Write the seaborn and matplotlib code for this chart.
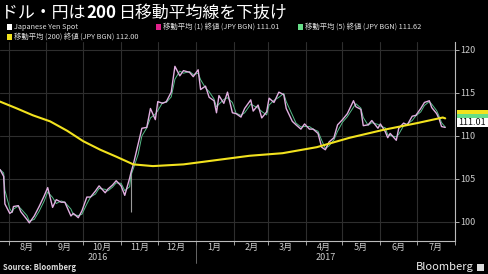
import matplotlib
matplotlib.use('Agg')
import matplotlib.pyplot as plt
import matplotlib.dates as mdates
import matplotlib.transforms as mtrans
from matplotlib.patches import Rectangle
import seaborn as sns
import pandas as pd

# ---------------- data ----------------
spot_dates = [
    '2016-07-25', '2016-07-28', '2016-07-29', '2016-08-02', '2016-08-04', '2016-08-05',
    '2016-08-09', '2016-08-11', '2016-08-16', '2016-08-18', '2016-08-22', '2016-08-26',
    '2016-08-30', '2016-09-02', '2016-09-06', '2016-09-09', '2016-09-13', '2016-09-16',
    '2016-09-21', '2016-09-23', '2016-09-27', '2016-09-30', '2016-10-04', '2016-10-07',
    '2016-10-11', '2016-10-14', '2016-10-19', '2016-10-21', '2016-10-25', '2016-10-28',
    '2016-11-01', '2016-11-04', '2016-11-08', '2016-11-09', '2016-11-11', '2016-11-15',
    '2016-11-18', '2016-11-22', '2016-11-25', '2016-11-29', '2016-12-01', '2016-12-05',
    '2016-12-08', '2016-12-12', '2016-12-15', '2016-12-19', '2016-12-22', '2016-12-27',
    '2016-12-30', '2017-01-03', '2017-01-05', '2017-01-09', '2017-01-12', '2017-01-16',
    '2017-01-18', '2017-01-20', '2017-01-24', '2017-01-27', '2017-01-31', '2017-02-03',
    '2017-02-07', '2017-02-10', '2017-02-15', '2017-02-17', '2017-02-21', '2017-02-24',
    '2017-02-28', '2017-03-02', '2017-03-06', '2017-03-10', '2017-03-14', '2017-03-16',
    '2017-03-21', '2017-03-24', '2017-03-28', '2017-03-31', '2017-04-04', '2017-04-07',
    '2017-04-11', '2017-04-14', '2017-04-17', '2017-04-20', '2017-04-24', '2017-04-27',
    '2017-05-01', '2017-05-05', '2017-05-10', '2017-05-12', '2017-05-16', '2017-05-18',
    '2017-05-22', '2017-05-25', '2017-05-30', '2017-06-01', '2017-06-05', '2017-06-07',
    '2017-06-09', '2017-06-14', '2017-06-16', '2017-06-20', '2017-06-23', '2017-06-27',
    '2017-06-30', '2017-07-04', '2017-07-07', '2017-07-11', '2017-07-13', '2017-07-17',
    '2017-07-19', '2017-07-21', '2017-07-24',
]
spot_values = [
    106.1, 105.3, 102.1, 101.0, 101.2, 101.8,
    101.9, 101.2, 100.3, 99.9, 100.7, 101.8,
    103.0, 104.0, 101.7, 102.6, 102.3, 102.3,
    100.7, 101.0, 100.5, 101.3, 102.9, 102.9,
    103.6, 104.2, 103.4, 103.8, 104.3, 104.8,
    104.2, 103.1, 105.1, 105.7, 106.7, 109.1,
    110.9, 111.0, 113.2, 111.9, 114.0, 113.8,
    114.0, 115.1, 118.1, 117.0, 117.6, 117.4,
    116.9, 117.7, 115.4, 115.8, 114.5, 114.1,
    112.7, 114.7, 113.8, 115.1, 112.7, 112.6,
    112.2, 113.2, 114.2, 112.9, 113.6, 112.1,
    112.8, 114.4, 113.9, 115.1, 114.8, 113.2,
    111.7, 111.3, 110.8, 111.4, 110.8, 110.8,
    110.3, 108.7, 108.4, 109.3, 109.8, 111.3,
    111.9, 112.6, 114.1, 113.4, 113.1, 111.2,
    111.3, 111.8, 110.9, 111.4, 110.5, 109.8,
    110.3, 109.5, 110.9, 111.5, 111.3, 112.3,
    112.4, 113.2, 113.9, 114.1, 113.3, 112.6,
    112.0, 111.1, 111.0,
]
election_date = '2016-11-09'
election_low = 101.2

ma200_dates = [
    '2016-07-25', '2016-08-07', '2016-08-21', '2016-09-04', '2016-09-18', '2016-10-01',
    '2016-10-15', '2016-10-28', '2016-11-11', '2016-11-27', '2016-12-22', '2017-01-18',
    '2017-02-14', '2017-03-13', '2017-04-10', '2017-05-07', '2017-06-03', '2017-07-01',
    '2017-07-22', '2017-07-24',
]
ma200_values = [
    114.0, 113.25, 112.4, 111.7, 110.6, 109.4,
    108.4, 107.6, 106.7, 106.5, 106.7, 107.2,
    107.7, 108.0, 108.7, 109.8, 110.7, 111.5,
    112.15, 112.05,
]

month_starts = pd.date_range('2016-08-01', '2017-08-01', freq='MS')
month_labels = ['8月', '9月', '10月', '11月', '12月', '1月', '2月', '3月',
                '4月', '5月', '6月', '7月']
year_labels = ['2016', '2017']
year_label_dates = ['2016-10-13', '2017-04-17']

title_parts = ['ドル・円は', '200', '日移動平均線を下抜け']

legend_items = [
    ('Japanese Yen Spot', '#ffffff'),
    ('移動平均 (1) 終値 (JPY BGN) 111.01', '#e0208a'),
    ('移動平均 (5) 終値 (JPY BGN) 111.62', '#66dd88'),
    ('移動平均 (200) 終値 (JPY BGN) 112.00', '#f2e21e'),
]
last_value_label = '111.01'

# ---------------- style ----------------
sns.set_theme(style='dark')
plt.rcParams['font.family'] = ['Noto Sans CJK JP', 'DejaVu Sans']
plt.rcParams['axes.unicode_minus'] = False

spot = pd.DataFrame({'date': pd.to_datetime(spot_dates), 'value': spot_values})
spot['ma5'] = spot['value'].rolling(2, min_periods=1).mean()
ma200 = pd.DataFrame({'date': pd.to_datetime(ma200_dates), 'value': ma200_values})

W, H = 488, 274
fig = plt.figure(figsize=(W / 100, H / 100), dpi=100, facecolor='black')
ax_left, ax_right, ax_top, ax_bot = 0, 455, 42, 241
ax = fig.add_axes([ax_left / W, 1 - ax_bot / H, (ax_right - ax_left) / W,
                   (ax_bot - ax_top) / H])
ax.set_facecolor('black')

# grid
for yv in [100, 105, 110, 115, 120]:
    ax.axhline(yv, color='#2e2e2e', lw=0.8, zorder=0)
for d in month_starts:
    ax.axvline(d, color='#2e2e2e', lw=0.8, zorder=0)

# election-night wick
ax.vlines(pd.to_datetime(election_date), election_low, 106.0, color='#999999', lw=0.8, zorder=2)

sns.lineplot(data=spot, x='date', y='ma5', ax=ax, color='#55bb88', lw=0.7, zorder=2)
sns.lineplot(data=spot, x='date', y='value', ax=ax, color='#e2b0e2', lw=1.0, zorder=3)
sns.lineplot(data=ma200, x='date', y='value', ax=ax, color='#f2e21e', lw=1.5, zorder=4)

ax.set_xlim(pd.Timestamp('2016-07-25'), pd.Timestamp('2017-08-01'))
ax.set_ylim(120 - (ax_bot - 50) / 8.6, 120 + (50 - ax_top) / 8.6)
ax.set_xlabel('')
ax.set_ylabel('')

for s in ['top', 'left']:
    ax.spines[s].set_visible(False)
for s in ['right', 'bottom']:
    ax.spines[s].set_visible(True)
    ax.spines[s].set_color('#bbbbbb')
    ax.spines[s].set_linewidth(0.8)

ax.yaxis.tick_right()
ax.set_yticks([100, 105, 110, 115, 120])
ax.tick_params(axis='y', colors='#cccccc', labelsize=6.5, length=3, width=0.6, pad=1,
               direction='out', right=True, left=False)

mids = [ms + pd.Timedelta(days=15) for ms in month_starts[:-1]]
ax.set_xticks(mids)
ax.set_xticklabels(month_labels)
ax.set_xticks(list(month_starts), minor=True)
ax.tick_params(axis='x', which='major', length=0, colors='#cccccc', labelsize=6.5, pad=1.5,
               bottom=True)
ax.tick_params(axis='x', which='minor', length=3, width=0.6, color='#bbbbbb', bottom=True)

bt = mtrans.blended_transform_factory(ax.transData, fig.transFigure)
for lab, d in zip(year_labels, year_label_dates):
    ax.text(pd.Timestamp(d), 1 - 257 / H, lab, transform=bt, ha='center', va='center',
            color='#cccccc', fontsize=6.5)
ax.plot([pd.Timestamp('2017-01-01')] * 2, [1 - 241 / H, 1 - 263 / H], transform=bt,
        color='#777777', lw=0.6, clip_on=False)

# right-side last-value labels (stacked boxes)
fig.patches.append(Rectangle((457 / W, 1 - 113.5 / H), 31 / W, 4 / H,
                             transform=fig.transFigure, fc='#f2e21e', ec='none'))
fig.patches.append(Rectangle((457 / W, 1 - 118 / H), 31 / W, 4.5 / H,
                             transform=fig.transFigure, fc='#66dd88', ec='none'))
fig.patches.append(Rectangle((457 / W, 1 - 127 / H), 31 / W, 9 / H,
                             transform=fig.transFigure, fc='#ffffff', ec='none'))
fig.text(472.5 / W, 1 - 122.5 / H, last_value_label, color='#111111', fontsize=6.5,
         ha='center', va='center')

# title (parts chained so they do not overlap)
TFS = 12.2
t0 = fig.text(1 / W, 1 - 13 / H, title_parts[0], color='white', fontsize=TFS,
              va='center', ha='left')
t1 = fig.text(0, 0, title_parts[1], color='white', fontsize=TFS, fontweight='bold',
              va='center', ha='left')
t2 = fig.text(0, 0, title_parts[2], color='white', fontsize=TFS, va='center', ha='left')
fig.canvas.draw()
r = fig.canvas.get_renderer()
bb0 = t0.get_window_extent(r)
t1.set_position(((bb0.x1 + 1) / W, 1 - 13 / H))
bb1 = t1.get_window_extent(r)
t2.set_position(((bb1.x1 + 2) / W, 1 - 13 / H))

# legend
leg_pos = [(7, 27), (156, 27), (298, 27), (7, 37)]
for (txt, col), (px, py) in zip(legend_items, leg_pos):
    fig.patches.append(Rectangle((px / W, 1 - (py + 2.5) / H), 5 / W, 5 / H,
                                 transform=fig.transFigure, fc=col, ec='none'))
    fig.text((px + 7) / W, 1 - py / H, txt, color='#dddddd', fontsize=5.3,
             va='center', ha='left')

# footer
fig.text(3 / W, 1 - 268 / H, 'Source: Bloomberg', color='#dddddd', fontsize=5.5,
         fontweight='bold', va='center', ha='left')
fig.text(474 / W, 1 - 267 / H, 'Bloomberg', color='#eeeeee', fontsize=8,
         va='center', ha='right')
fig.patches.append(Rectangle((477 / W, 1 - 271 / H), 7 / W, 7 / H,
                             transform=fig.transFigure, fc='#dddddd', ec='none'))

fig.savefig('out.png', dpi=100, facecolor='black')
